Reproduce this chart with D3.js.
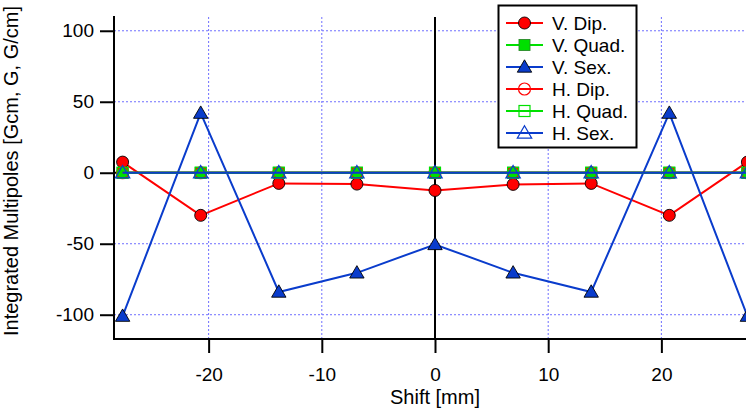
<!DOCTYPE html>
<html>
<head>
<meta charset="utf-8">
<script src="https://cdn.jsdelivr.net/npm/d3@7"></script>
<style>
  html, body { margin: 0; padding: 0; background: #fff; }
  svg { display: block; font-family: "Liberation Sans", Arial, Helvetica, sans-serif; }
</style>
</head>
<body>
<svg id="chart" width="746" height="413"></svg>
<script>
// Shift positions (mm) and integrated multipoles per series
const shiftMM = [-27.6, -20.7, -13.8, -6.9, 0, 6.9, 13.8, 20.7, 27.6];
const vDip  = [7.5, -30, -7.5, -8, -12.5, -8.2, -7.5, -30, 7.5];
const vQuad = [0, 0, 0, 0, 0, 0, 0, 0, 0];
const vSex  = [-101, 42, -84, -70.5, -50.5, -70.5, -84, 42, -101];
const hDip  = [0, 0, 0, 0, 0, 0, 0, 0, 0];
const hQuad = [0, 0, 0, 0, 0, 0, 0, 0, 0];
const hSex  = [0, 0, 0, 0, 0, 0, 0, 0, 0];

const seriesNames = ["V. Dip.", "V. Quad.", "V. Sex.", "H. Dip.", "H. Quad.", "H. Sex."];
const xTicks = [-20, -10, 0, 10, 20];
const yTicks = [-100, -50, 0, 50, 100];

const RED = "#ff0000", GREEN = "#00e000", BLUE = "#0a3ccc";
const series = [
  { name: seriesNames[0], values: vDip,  color: RED,   shape: "circle",   filled: true },
  { name: seriesNames[1], values: vQuad, color: GREEN, shape: "square",   filled: true },
  { name: seriesNames[2], values: vSex,  color: BLUE,  shape: "triangle", filled: true },
  { name: seriesNames[3], values: hDip,  color: RED,   shape: "circle",   filled: false },
  { name: seriesNames[4], values: hQuad, color: GREEN, shape: "square",   filled: false },
  { name: seriesNames[5], values: hSex,  color: BLUE,  shape: "triangle", filled: false }
];

const svg = d3.select("#chart");
const plotLeft = 114, plotBottom = 339, plotTop = 17, plotRight = 756;
const FONT = "'Liberation Sans', Arial, sans-serif";

const x = d3.scaleLinear().domain([-28.36, 28.36]).range([plotLeft, plotRight]);
const y = d3.scaleLinear().domain([-117.1, 109.7]).range([plotBottom, plotTop]);

// dotted grid
const grid = svg.append("g");
grid.selectAll(".gx").data(xTicks.filter(d => d !== 0)).enter().append("line")
  .attr("x1", d => x(d)).attr("x2", d => x(d)).attr("y1", plotTop).attr("y2", plotBottom)
  .attr("stroke", "#6f6fff").attr("stroke-width", 1).attr("stroke-dasharray", "2,2");
grid.selectAll(".gy").data(yTicks.filter(d => d !== 0)).enter().append("line")
  .attr("x1", plotLeft).attr("x2", 746).attr("y1", d => y(d)).attr("y2", d => y(d))
  .attr("stroke", "#6f6fff").attr("stroke-width", 1).attr("stroke-dasharray", "2,2");

// zero lines
svg.append("line").attr("x1", x(0)).attr("x2", x(0)).attr("y1", plotTop).attr("y2", plotBottom)
  .attr("stroke", "#000").attr("stroke-width", 2);
svg.append("line").attr("x1", plotLeft).attr("x2", 746).attr("y1", y(0)).attr("y2", y(0))
  .attr("stroke", "#000").attr("stroke-width", 2);

// axes
const fmt = d => String(d);
const xAxis = d3.axisBottom(x).tickValues(xTicks).tickSize(14).tickPadding(15).tickFormat(fmt);
const yAxis = d3.axisLeft(y).tickValues(yTicks).tickSize(14).tickPadding(6).tickFormat(fmt);

const gx = svg.append("g").attr("transform", `translate(0,${plotBottom})`).call(xAxis);
const gy = svg.append("g").attr("transform", `translate(${plotLeft},0)`).call(yAxis);
[gx, gy].forEach(g => {
  g.attr("font-family", null).attr("font-size", null);
  g.select(".domain").remove();
  g.selectAll(".tick line").attr("stroke", "#000").attr("stroke-width", 2);
  g.selectAll(".tick text").attr("fill", "#000").style("font-size", "19px").style("font-family", FONT);
});
gx.selectAll(".tick text").attr("dy", "0.71em");
svg.append("line").attr("x1", plotLeft).attr("x2", plotLeft).attr("y1", plotTop - 1).attr("y2", plotBottom + 1)
  .attr("stroke", "#000").attr("stroke-width", 2);
svg.append("line").attr("x1", plotLeft - 1).attr("x2", 746).attr("y1", plotBottom).attr("y2", plotBottom)
  .attr("stroke", "#000").attr("stroke-width", 2);

// axis titles
svg.append("text").attr("x", x(0)).attr("y", 404).attr("text-anchor", "middle")
  .style("font-size", "20px").style("font-family", FONT).text("Shift [mm]");
svg.append("text").attr("transform", `translate(18,171) rotate(-90)`)
  .attr("text-anchor", "middle").style("font-size", "20px").style("font-family", FONT)
  .text("Integrated Multipoles [Gcm, G, G/cm]");

// marker drawing
function marker(g, shape, color, filled, cx, cy) {
  let m;
  if (shape === "circle") {
    m = g.append("circle").attr("cx", cx).attr("cy", cy).attr("r", 6);
  } else if (shape === "square") {
    m = g.append("rect").attr("x", cx - 5.5).attr("y", cy - 5.5).attr("width", 11).attr("height", 11);
  } else {
    const s = 7.2;
    m = g.append("path").attr("d", `M${cx},${cy - s}L${cx + s},${cy + s * 0.72}L${cx - s},${cy + s * 0.72}Z`);
  }
  if (filled) {
    m.attr("fill", color).attr("stroke", shape === "square" ? "#2a8a2a" : "#000").attr("stroke-width", 0.9);
  } else {
    m.attr("fill", "none").attr("stroke", color).attr("stroke-width", 1.2);
  }
  return m;
}

// data traces, each line followed by its markers
const line = d3.line().x((d, i) => x(shiftMM[i])).y(d => y(d));
const plot = svg.append("g");
series.forEach(s => {
  const g = plot.append("g");
  g.append("path").attr("d", line(s.values)).attr("fill", "none")
    .attr("stroke", s.color).attr("stroke-width", 2);
  s.values.forEach((v, i) => marker(g, s.shape, s.color, s.filled, x(shiftMM[i]), y(v)));
});

// legend
const lg = svg.append("g");
lg.append("rect").attr("x", 498.5).attr("y", 5.5).attr("width", 138).attr("height", 142)
  .attr("fill", "#fff").attr("stroke", "#000").attr("stroke-width", 2);
series.forEach((s, i) => {
  const cy = 23 + i * 22;
  const row = lg.append("g");
  row.append("line").attr("x1", 506).attr("x2", 543).attr("y1", cy).attr("y2", cy)
    .attr("stroke", s.color).attr("stroke-width", 2);
  marker(row, s.shape, s.color, s.filled, 524.5, cy);
  row.append("text").attr("x", 552).attr("y", cy).attr("dy", "0.36em")
    .style("font-size", "19px").style("font-family", FONT).attr("fill", "#000").text(s.name);
});
</script>
</body>
</html>
